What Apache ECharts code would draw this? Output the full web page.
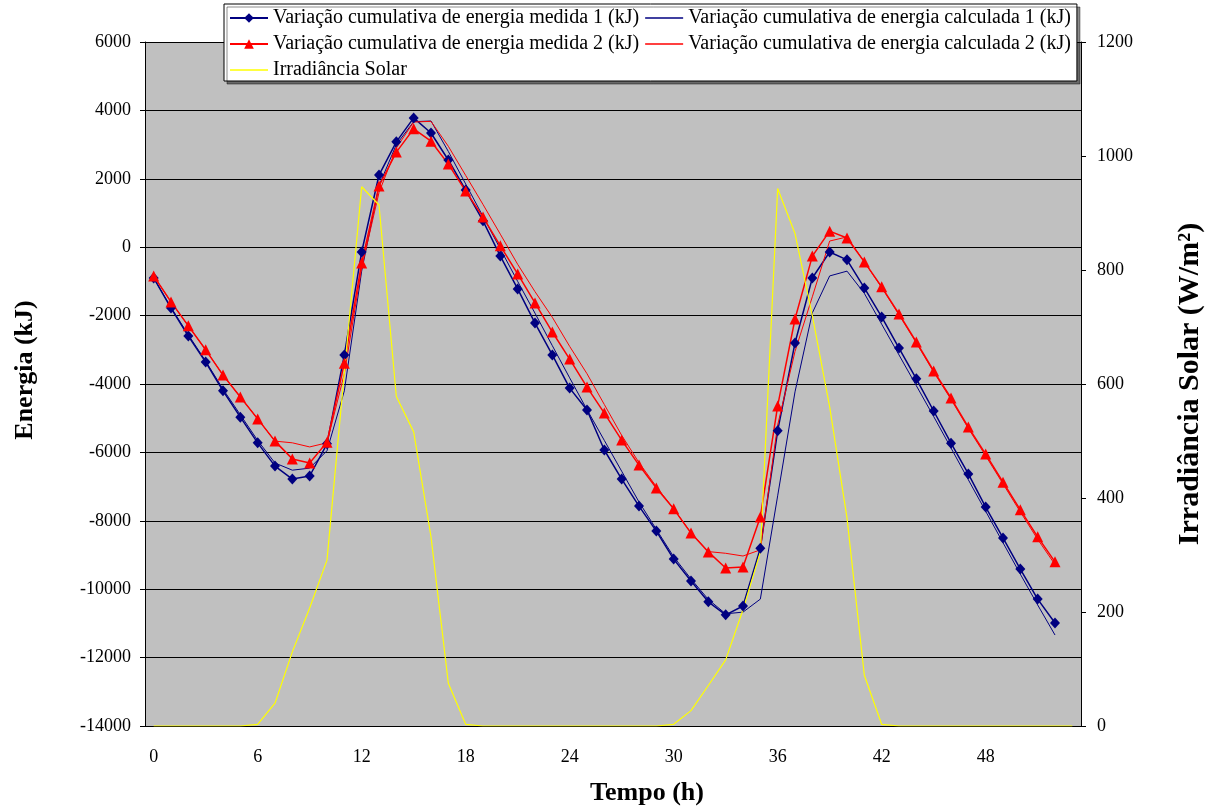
<!DOCTYPE html>
<html>
<head>
<meta charset="utf-8">
<script src="https://cdn.jsdelivr.net/npm/echarts@6/dist/echarts.min.js"></script>
<style>
html,body{margin:0;padding:0;background:#fff;overflow:hidden;}
#chart{width:1206px;height:807px;}
</style>
</head>
<body>
<div id="chart"></div>
<script>
// Hours (category axis)
const hours = ['0','1','2','3','4','5','6','7','8','9','10','11','12','13','14','15','16','17','18','19','20','21','22','23','24','25','26','27','28','29','30','31','32','33','34','35','36','37','38','39','40','41','42','43','44','45','46','47','48','49','50','51','52','53'];

// Energy series (kJ)
const medida1 = [-900,-1780,-2600,-3360,-4200,-4970,-5720,-6400,-6780,-6690,-5750,-3150,-140,2110,3080,3780,3340,2550,1670,770,-260,-1220,-2220,-3150,-4120,-4760,-5930,-6780,-7570,-8300,-9120,-9760,-10370,-10750,-10490,-8800,-5370,-2800,-900,-140,-370,-1190,-2040,-2950,-3850,-4790,-5730,-6630,-7600,-8500,-9410,-10290,-10990];
const calculada1 = [-900,-1760,-2560,-3330,-4150,-4900,-5650,-6310,-6520,-6460,-5950,-4200,-700,1800,3000,3670,3690,2800,1850,900,-50,-1000,-1930,-2880,-3820,-4750,-5650,-6550,-7450,-8250,-9050,-9700,-10300,-10720,-10670,-10290,-7270,-4230,-1920,-840,-700,-1350,-2250,-3150,-4050,-4950,-5870,-6800,-7720,-8640,-9560,-10460,-11340];
const medida2 = [-840,-1600,-2300,-3000,-3740,-4380,-5020,-5670,-6190,-6310,-5700,-3390,-460,1790,2780,3460,3100,2430,1640,880,40,-780,-1630,-2480,-3270,-4090,-4850,-5640,-6370,-7040,-7650,-8360,-8910,-9380,-9350,-7890,-4640,-2100,-260,470,270,-430,-1160,-1950,-2770,-3620,-4410,-5260,-6050,-6870,-7680,-8470,-9200];
const calculada2 = [-840,-1600,-2300,-3000,-3740,-4380,-5020,-5670,-5720,-5840,-5720,-3700,-600,1600,2900,3660,3680,2950,2100,1250,380,-500,-1300,-2050,-2900,-3700,-4600,-5500,-6300,-7000,-7650,-8350,-8900,-8950,-9030,-8850,-5200,-3050,-1450,180,300,-430,-1180,-1980,-2800,-3650,-4450,-5300,-6100,-6920,-7740,-8540,-9280];

// Solar irradiance (W/m²)
const irradiancia = [0,0,0,0,0,0,3,40,130,207,291,620,946,914,578,516,332,75,3,0,0,0,0,0,0,0,0,0,0,0,3,27,71,116,204,305,943,864,720,560,365,89,3,0,0,0,0,0,0,0,0,0,0,0];

// Axis ticks
const energyMin = -14000, energyMax = 6000, energyStep = 2000;
const irrMin = 0, irrMax = 1200, irrStep = 200;

const names = [
  'Variação cumulativa de energia medida 1 (kJ)',
  'Variação cumulativa de energia calculada 1 (kJ)',
  'Variação cumulativa de energia medida 2 (kJ)',
  'Variação cumulativa de energia calculada 2 (kJ)',
  'Irradiância Solar'
];

const FONT = "'Liberation Serif', 'Times New Roman', serif";
const LINE_ICON = 'path://M0,0 L40,0 L40,1.6 L0,1.6 Z';
const chart = echarts.init(document.getElementById('chart'), null, {renderer:'canvas'});
chart.setOption({
  animation: false,
  backgroundColor: '#ffffff',
  textStyle: {fontFamily: FONT, color: '#000'},
  legend: {
    left: 224, top: 4,
    width: 900,
    padding: [4, 6, 1, 5],
    itemGap: 6,
    itemWidth: 38, itemHeight: 12,
    symbolKeepAspect: true,
    backgroundColor: '#ffffff',
    borderColor: '#000', borderWidth: 1,
    shadowColor: 'rgba(0,0,0,0.45)', shadowOffsetX: 3, shadowOffsetY: 3, shadowBlur: 0,
    textStyle: {fontFamily: FONT, fontSize: 20, color: '#000', lineHeight: 20},
    data: [
      {name: names[0]},
      {name: names[1], icon: LINE_ICON},
      {name: names[2]},
      {name: names[3], icon: LINE_ICON},
      {name: names[4], icon: LINE_ICON}
    ]
  },
  grid: {left: 145, right: 125, top: 42, bottom: 81, show: true, backgroundColor: '#C0C0C0', borderWidth: 0,
         containLabel: false, outerBoundsMode: 'none'},
  xAxis: {
    type: 'category',
    data: hours,
    boundaryGap: true,
    name: 'Tempo (h)', nameLocation: 'middle', nameGap: 54,
    nameTextStyle: {fontFamily: FONT, fontSize: 26, fontWeight: 'bold', color: '#000', padding: [0, 0, 0, 68]},
    axisLine: {onZero: false, lineStyle: {color: '#000', width: 1}},
    axisTick: {show: false},
    axisLabel: {interval: 5, margin: 22, fontFamily: FONT, fontSize: 18, color: '#000'},
    splitLine: {show: false}
  },
  yAxis: [
    {
      type: 'value', min: energyMin, max: energyMax, interval: energyStep,
      name: 'Energia (kJ)', nameLocation: 'middle', nameGap: 107, nameRotate: 90,
      nameTextStyle: {fontFamily: FONT, fontSize: 26, fontWeight: 'bold', color: '#000', padding: [0, 0, 0, 28]},
      axisLine: {show: true, lineStyle: {color: '#000', width: 1}},
      axisTick: {show: true, length: 5, lineStyle: {color: '#000'}},
      axisLabel: {margin: 14, fontFamily: FONT, fontSize: 18, color: '#000', formatter: v => String(v)},
      splitLine: {show: true, lineStyle: {color: '#000', width: 1}}
    },
    {
      type: 'value', min: irrMin, max: irrMax, interval: irrStep, position: 'right',
      name: 'Irradiância Solar (W/m²)', nameLocation: 'middle', nameGap: 94, nameRotate: 90,
      nameTextStyle: {fontFamily: FONT, fontSize: 30, fontWeight: 'bold', color: '#000'},
      axisLine: {show: true, lineStyle: {color: '#000', width: 1}},
      axisTick: {show: true, length: 5, lineStyle: {color: '#000'}},
      axisLabel: {margin: 16, fontFamily: FONT, fontSize: 18, color: '#000', formatter: v => String(v)},
      splitLine: {show: false}
    }
  ],
  series: [
    {name: names[0], type: 'line', yAxisIndex: 0, data: medida1,
     symbol: 'diamond', symbolSize: [10, 11], showAllSymbol: true,
     itemStyle: {color: '#000080'}, lineStyle: {color: '#000080', width: 1.5}},
    {name: names[1], type: 'line', yAxisIndex: 0, data: calculada1,
     symbol: 'none', itemStyle: {color: '#000080'}, lineStyle: {color: '#000080', width: 1}},
    {name: names[2], type: 'line', yAxisIndex: 0, data: medida2,
     symbol: 'triangle', symbolSize: [11, 11], showAllSymbol: true,
     itemStyle: {color: '#FF0000'}, lineStyle: {color: '#FF0000', width: 1.5}},
    {name: names[3], type: 'line', yAxisIndex: 0, data: calculada2,
     symbol: 'none', itemStyle: {color: '#FF0000'}, lineStyle: {color: '#FF0000', width: 1}},
    {name: names[4], type: 'line', yAxisIndex: 1, data: irradiancia,
     symbol: 'none', itemStyle: {color: '#FFFF00'}, lineStyle: {color: '#FFFF00', width: 1.2}}
  ]
});
</script>
</body>
</html>
